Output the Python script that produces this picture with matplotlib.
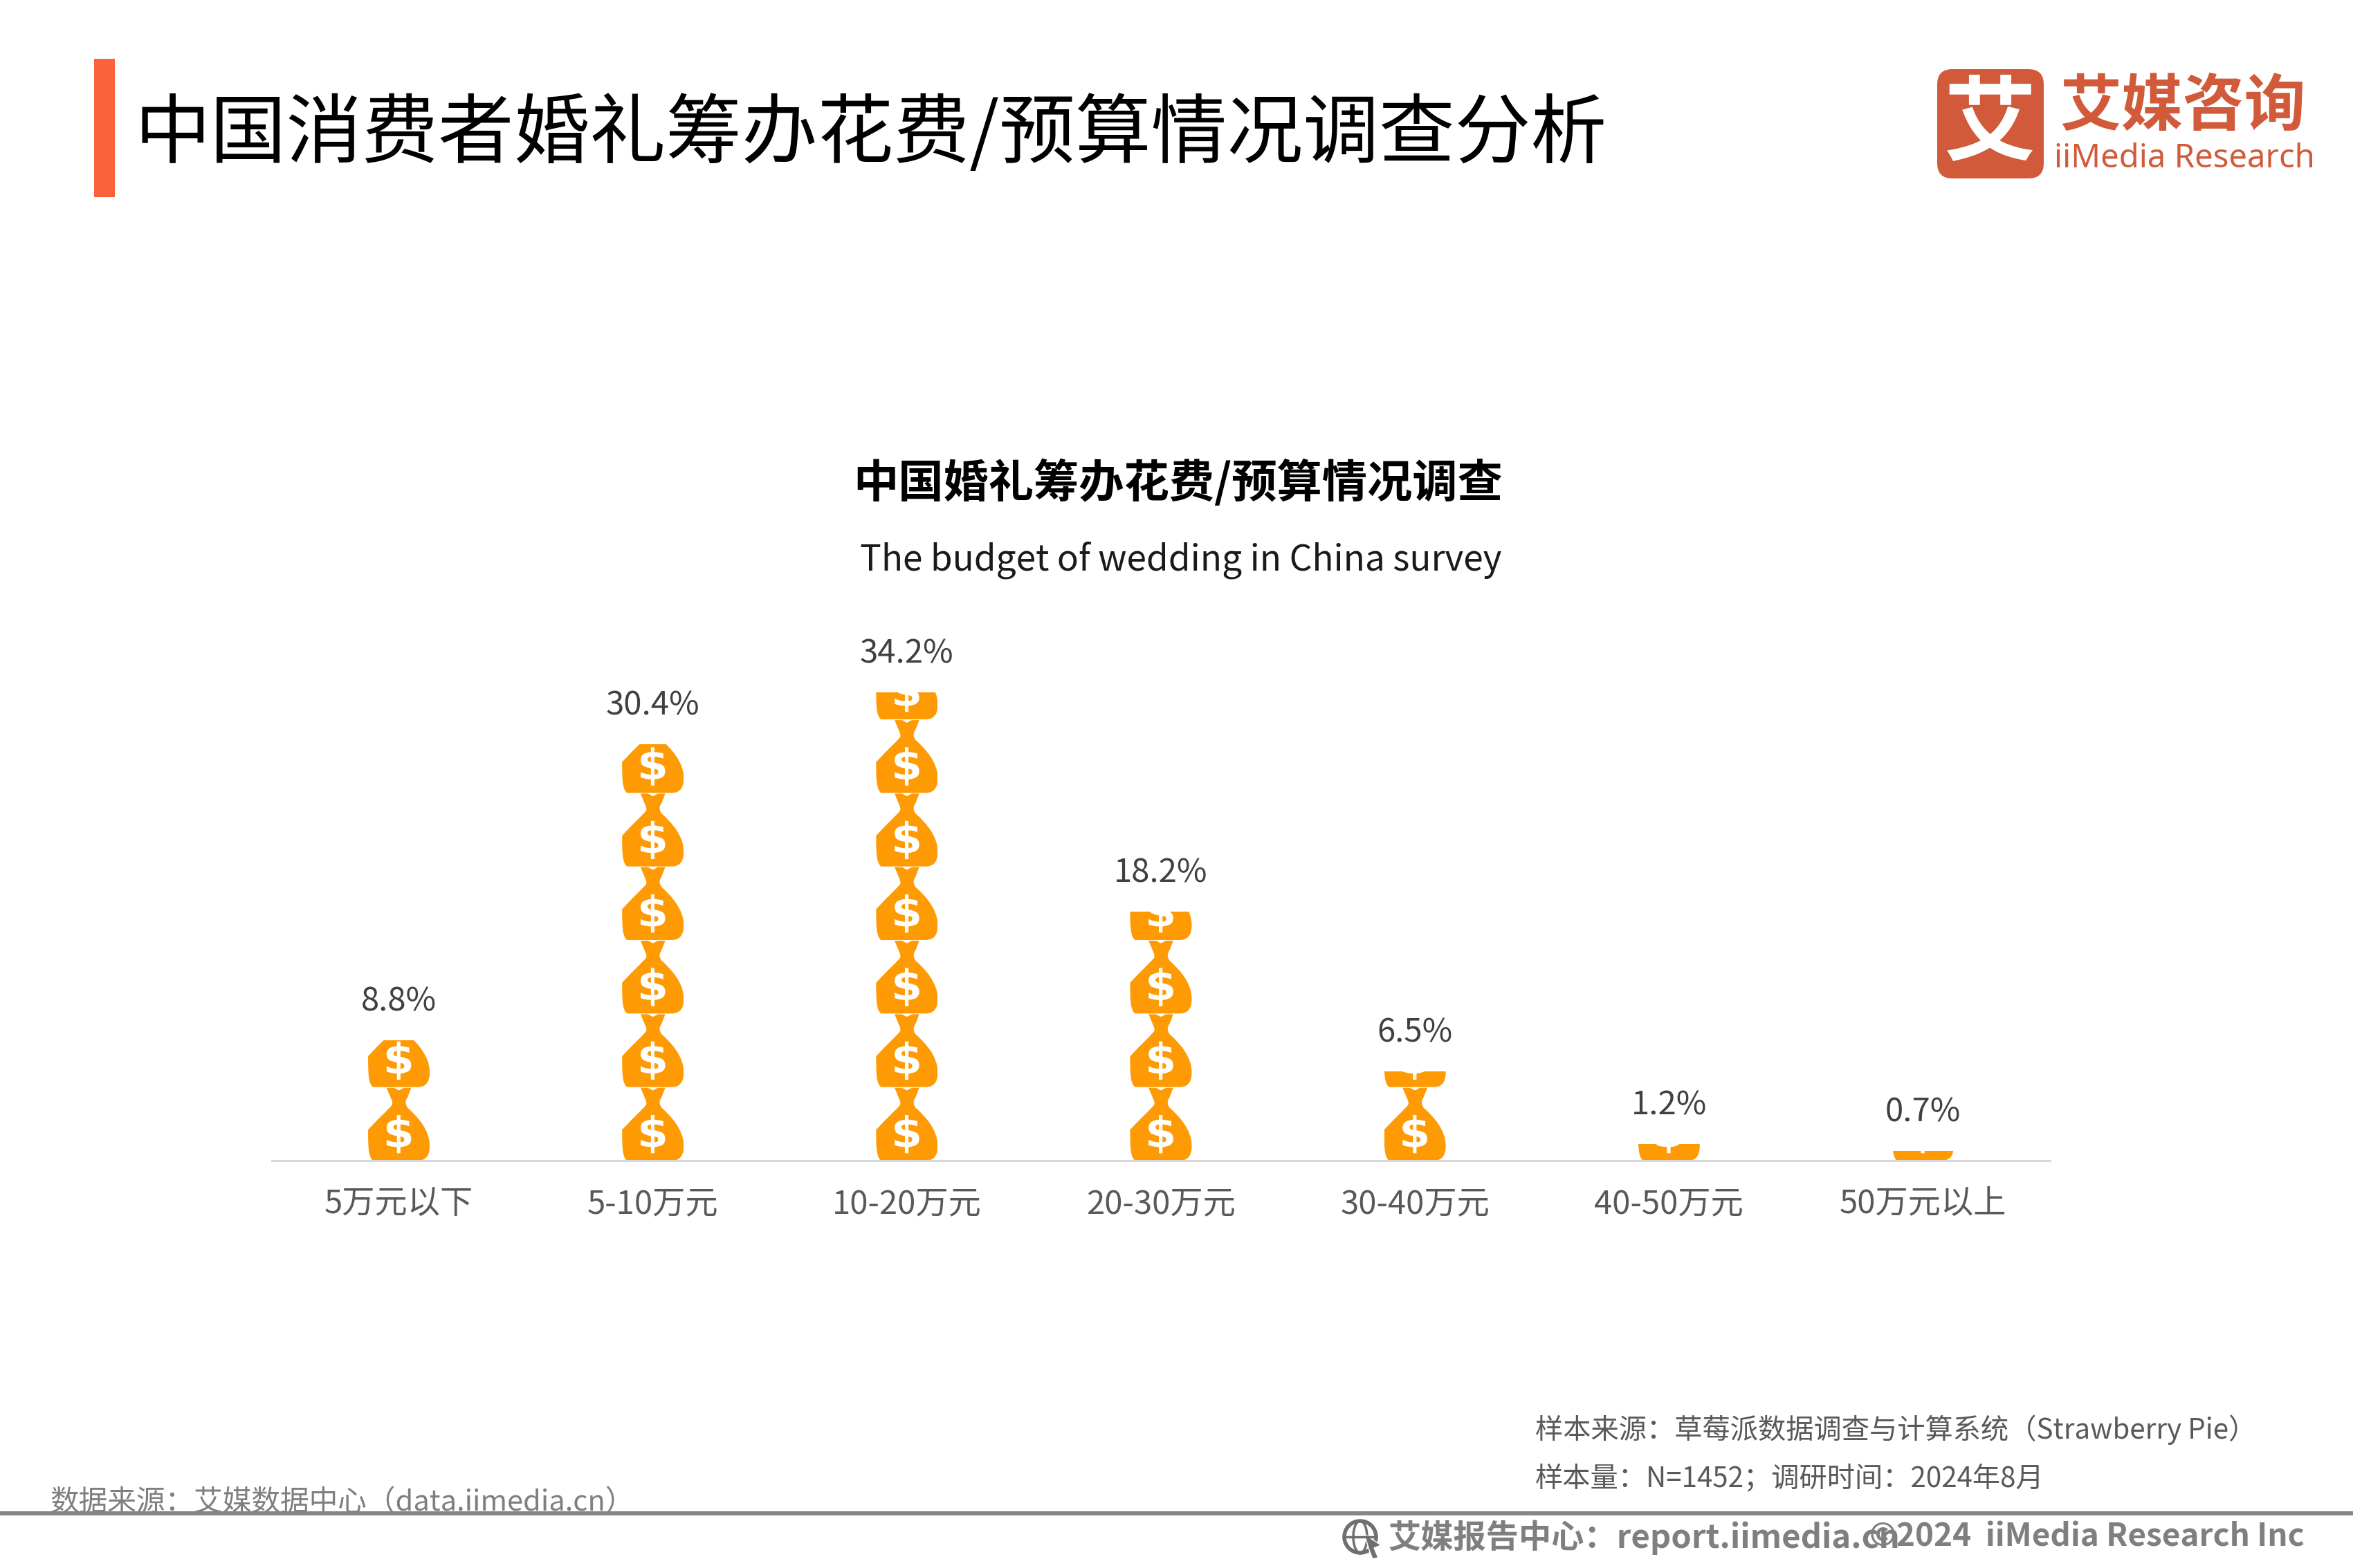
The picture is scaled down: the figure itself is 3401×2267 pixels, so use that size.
import matplotlib
matplotlib.use('Agg')

import matplotlib.pyplot as plt
from matplotlib.font_manager import FontProperties
from matplotlib.patches import Rectangle, FancyBboxPatch, PathPatch, Circle, Ellipse, Polygon
from matplotlib.path import Path
from matplotlib.text import TextPath
from matplotlib.transforms import Affine2D

plt.rcParams['font.family'] = ['Noto Sans CJK SC', 'DejaVu Sans']

# =========================
# DATA
# =========================
categories = ["5万元以下", "5-10万元", "10-20万元", "20-30万元", "30-40万元", "40-50万元", "50万元以上"]
values = [8.8, 30.4, 34.2, 18.2, 6.5, 1.2, 0.7]

BAG_VALUE = 5.37   # one bag stands for this many percent
BAG_WIDTH = 0.2425
ORANGE = "#FE9A03"

W, H = 3401, 2267
fig = plt.figure(figsize=(W / 100, H / 100), dpi=100, facecolor="white")


# =========================
# MONEY BAG SHAPE (unit box, x centred, y from 0 to 1)
# =========================
def bag_path():
    M, L, C, Z = Path.MOVETO, Path.LINETO, Path.CURVE4, Path.CLOSEPOLY
    right = [
        (0.0, 0.0), (0.30, 0.0),
        (0.42, 0.0), (0.50, 0.05), (0.50, 0.20),
        (0.50, 0.42), (0.30, 0.60), (0.14, 0.72),
        (0.11, 0.76), (0.09, 0.80), (0.14, 0.86),
        (0.20, 0.99), (0.20, 0.99), (0.20, 0.99),
    ]
    codes_right = [M, L, C, C, C, C, C, C, C, C, C, L, L, L]
    left = [(-x, y) for x, y in reversed(right[1:-3])]
    verts = right + [(0.08, 0.99), (0.0, 0.955), (-0.08, 0.99), (-0.20, 0.99)] + left
    codes = codes_right + [L, L, L, L]
    # left side mirrors the right side, curves keep their control order
    codes += [C] * 9 + [L]
    verts = verts + [(0.0, 0.0), (0.0, 0.0)]
    codes = codes + [L, Z]
    return Path(verts, codes)


BAG = bag_path()
DOLLAR = TextPath((0, 0), "$", size=1, prop=FontProperties(family="DejaVu Sans", weight="bold"))
d_box = DOLLAR.get_extents()

# =========================
# CHART
# =========================
ax = fig.add_axes([393 / W, 1 - 1678 / H, 2570 / W, 792 / H])
x_pos = list(range(len(categories)))
bars = ax.bar(x_pos, values, width=BAG_WIDTH, color="none", linewidth=0)

ax.set_xlim(-0.5, 6.5)
ax.set_ylim(0, 40)
ax.set_yticks([])
ax.set_xticks(x_pos)
ax.set_xticklabels(categories, fontsize=34, color="#595959")
ax.tick_params(axis="x", length=0, pad=28)
for side in ["top", "left", "right"]:
    ax.spines[side].set_visible(False)
ax.spines["bottom"].set_color("#D9D9D9")
ax.spines["bottom"].set_linewidth(2.2)
ax.patch.set_alpha(0)

for x, v, bar in zip(x_pos, values, bars):
    k = 0
    while k * BAG_VALUE < v:
        bag_tf = Affine2D().scale(BAG_WIDTH, BAG_VALUE).translate(x, k * BAG_VALUE)
        bag = PathPatch(BAG, transform=bag_tf + ax.transData, facecolor=ORANGE, edgecolor="none")
        ax.add_patch(bag)
        bag.set_clip_path(bar)
        # dollar glyph in the belly of the bag
        dw, dh = BAG_WIDTH * 0.40, BAG_VALUE * 0.52
        d_tf = (Affine2D()
                .translate(-(d_box.x0 + d_box.x1) / 2, -(d_box.y0 + d_box.y1) / 2)
                .scale(dw / d_box.width, dh / d_box.height)
                .translate(x, (k + 0.36) * BAG_VALUE))
        dollar = PathPatch(DOLLAR, transform=d_tf + ax.transData, facecolor="white", edgecolor="none")
        ax.add_patch(dollar)
        dollar.set_clip_path(bar)
        k += 1
    ax.annotate(f"{v}%", (x, v), xytext=(0, 40), textcoords="offset points",
                ha="center", va="center", fontsize=34, color="#404040")

# =========================
# PAGE DECORATION (pixel coordinates)
# =========================
page = fig.add_axes([0, 0, 1, 1], zorder=5)
page.set_xlim(0, W)
page.set_ylim(H, 0)
page.axis("off")
page.patch.set_alpha(0)

page.add_patch(Rectangle((136, 85), 30, 200, facecolor="#F9623A", edgecolor="none"))
page.text(194, 196, "中国消费者婚礼筹办花费/预算情况调查分析", fontsize=79, color="#000000",
          va="center", ha="left")

page.text(1703, 699, "中国婚礼筹办花费/预算情况调查", fontsize=47, fontweight="bold",
          color="#000000", ha="center", va="center")
page.text(1707, 810, "The budget of wedding in China survey", fontsize=37, color="#1A1A1A",
          ha="center", va="center")

# logo
LOGO = "#D15A3A"
page.add_patch(FancyBboxPatch((2800 + 22, 100 + 22), 154 - 44, 158 - 44,
                              boxstyle="round,pad=22", facecolor=LOGO, edgecolor="none"))
page.text(2877, 181, "艾", fontsize=96, fontweight="bold", color="white", ha="center", va="center")
page.text(3155, 155, "艾媒咨询", fontsize=64, fontweight="bold", color=LOGO, ha="center", va="center")
page.text(3157, 229, "iiMedia Research", fontsize=34, fontweight="medium", color=LOGO, ha="center", va="center",
          family=["Noto Sans", "DejaVu Sans"])

# footer
page.text(2219, 2067, "样本来源：草莓派数据调查与计算系统（Strawberry Pie）", fontsize=29,
          color="#595959", va="center")
page.text(2219, 2138, "样本量：N=1452；调研时间：2024年8月", fontsize=29, color="#595959", va="center")
page.text(72, 2172, "数据来源：艾媒数据中心（data.iimedia.cn）", fontsize=30, color="#7F7F7F", va="center")
page.add_patch(Rectangle((0, 2185), W, 6, facecolor="#868686", edgecolor="none", zorder=4))

page.add_patch(Circle((1966, 2222), 23, facecolor="none", edgecolor="#6F6F6F", linewidth=4))
page.add_patch(Ellipse((1966, 2222), 20, 46, facecolor="none", edgecolor="#6F6F6F", linewidth=2.5))
page.plot([1943, 1989], [2222, 2222], color="#6F6F6F", linewidth=2.5)
page.add_patch(Polygon([(1972, 2218), (1996, 2234), (1986, 2238), (1992, 2252), (1984, 2254), (1979, 2241)],
                       facecolor="#6F6F6F", edgecolor="white", linewidth=1))
page.text(2007, 2223, "艾媒报告中心：report.iimedia.cn", fontsize=34, fontweight="bold",
          color="#7F7F7F", va="center")
page.text(3331, 2223, "©2024  iiMedia Research Inc", fontsize=33, fontweight="bold",
          color="#7F7F7F", va="center", ha="right")

fig.savefig("out.png", dpi=100, facecolor="white")
